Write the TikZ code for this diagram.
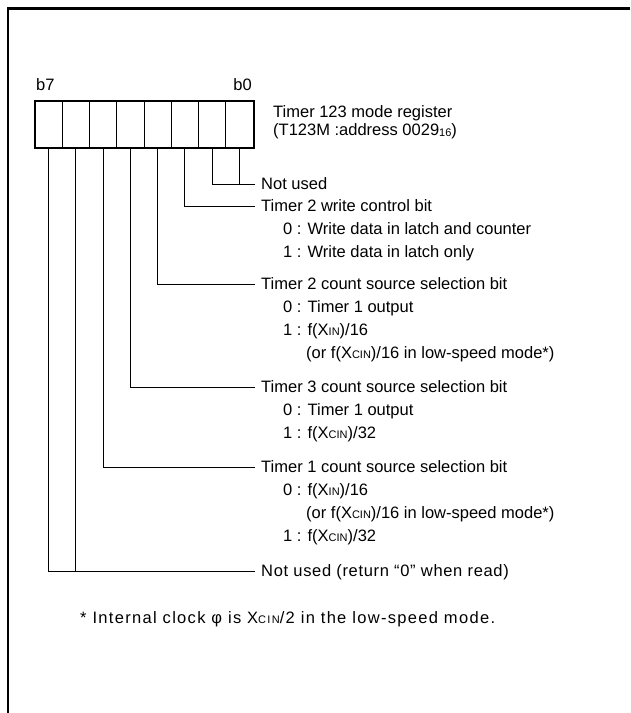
\documentclass[tikz,border=0pt]{standalone}
\usepackage{fontspec}
\setmainfont{Liberation Sans}
\newfontfamily\fnfont[LetterSpace=8.0]{Liberation Sans}
\newfontfamily\fnsmall[LetterSpace=12.0]{Liberation Sans}
\newfontfamily\nufont[LetterSpace=4.0]{Liberation Sans}
\newcommand{\smc}[1]{{\fontsize{11}{11}\selectfont #1}}
\begin{document}
\begin{tikzpicture}[x=1pt,y=-1pt,
  every node/.style={font=\fontsize{16.5}{18}\selectfont, inner ysep=0pt, text height=11.8pt, text depth=0pt},
  cell/.style={draw, line width=1pt, minimum width=27.25pt, minimum height=46pt, inner sep=0pt},
  head/.style={anchor=west, inner xsep=6pt},
  sub/.style={anchor=west, inner xsep=0pt},
  conn/.style={line width=1pt}]
\useasboundingbox (0,0) rectangle (630,713);
% frame
\draw[line width=2.5pt] (8,713) -- (8,8.5) -- (630,8.5);
% register cells
\foreach \i in {0,...,7}{
  \node[cell] (c\i) at ({239.4-27.25*\i},124) {};
}
\draw[line width=2pt] (c7.north west) rectangle (c0.south east);
\node[sub, anchor=west] (b7) at (36,85) {b7};
\node[sub, anchor=east] (b0) at (252,85) {b0};
\node[sub] (ti1) at (273,112) {Timer 123 mode register};
\node[sub] (ti2) at (273,130) {(T123M :address 0029\raisebox{-1pt}{\smc{16}})};
% descriptions
\node[head] (n0) at (255,184) {Not used};
\node[head] (t2w) at (255,206) {Timer 2 write control bit};
\node[sub] (t2wa) at (283,229) {0 : Write data in latch and counter};
\node[sub] (t2wb) at (283,252) {1 : Write data in latch only};
\node[head] (t2c) at (255,284) {Timer 2 count source selection bit};
\node[sub] (t2ca) at (283,307) {0 : Timer 1 output};
\node[sub] (t2cb) at (283,330) {1 : f(X\smc{IN})/16};
\node[sub] (t2cc) at (306,353) {(or f(X\smc{CIN})/16 in low-speed mode*)};
\node[head] (t3) at (255,387) {Timer 3 count source selection bit};
\node[sub] (t3a) at (283,410) {0 : Timer 1 output};
\node[sub] (t3b) at (283,433) {1 : f(X\smc{CIN})/32};
\node[head] (t1) at (255,467) {Timer 1 count source selection bit};
\node[sub] (t1a) at (283,490) {0 : f(X\smc{IN})/16};
\node[sub] (t1b) at (306,513) {(or f(X\smc{CIN})/16 in low-speed mode*)};
\node[sub] (t1c) at (283,536) {1 : f(X\smc{CIN})/32};
\node[head] (n7) at (255,571) {\nufont Not used (return “0” when read)};
\node[sub] (fn) at (80,618) {\fnfont * Internal clock φ is X{\fnsmall\fontsize{11}{11}\selectfont CIN}/2 in the low-speed mode.};
% connectors
\draw[conn] (c0.south) |- (n0.west);
\draw[conn] (c1.south) |- (n0.west);
\draw[conn] (c2.south) |- (t2w.west);
\draw[conn] (c3.south) |- (t2c.west);
\draw[conn] (c4.south) |- (t3.west);
\draw[conn] (c5.south) |- (t1.west);
\draw[conn] (c6.south) |- (n7.west);
\draw[conn] (c7.south) |- (n7.west);
\end{tikzpicture}
\end{document}
